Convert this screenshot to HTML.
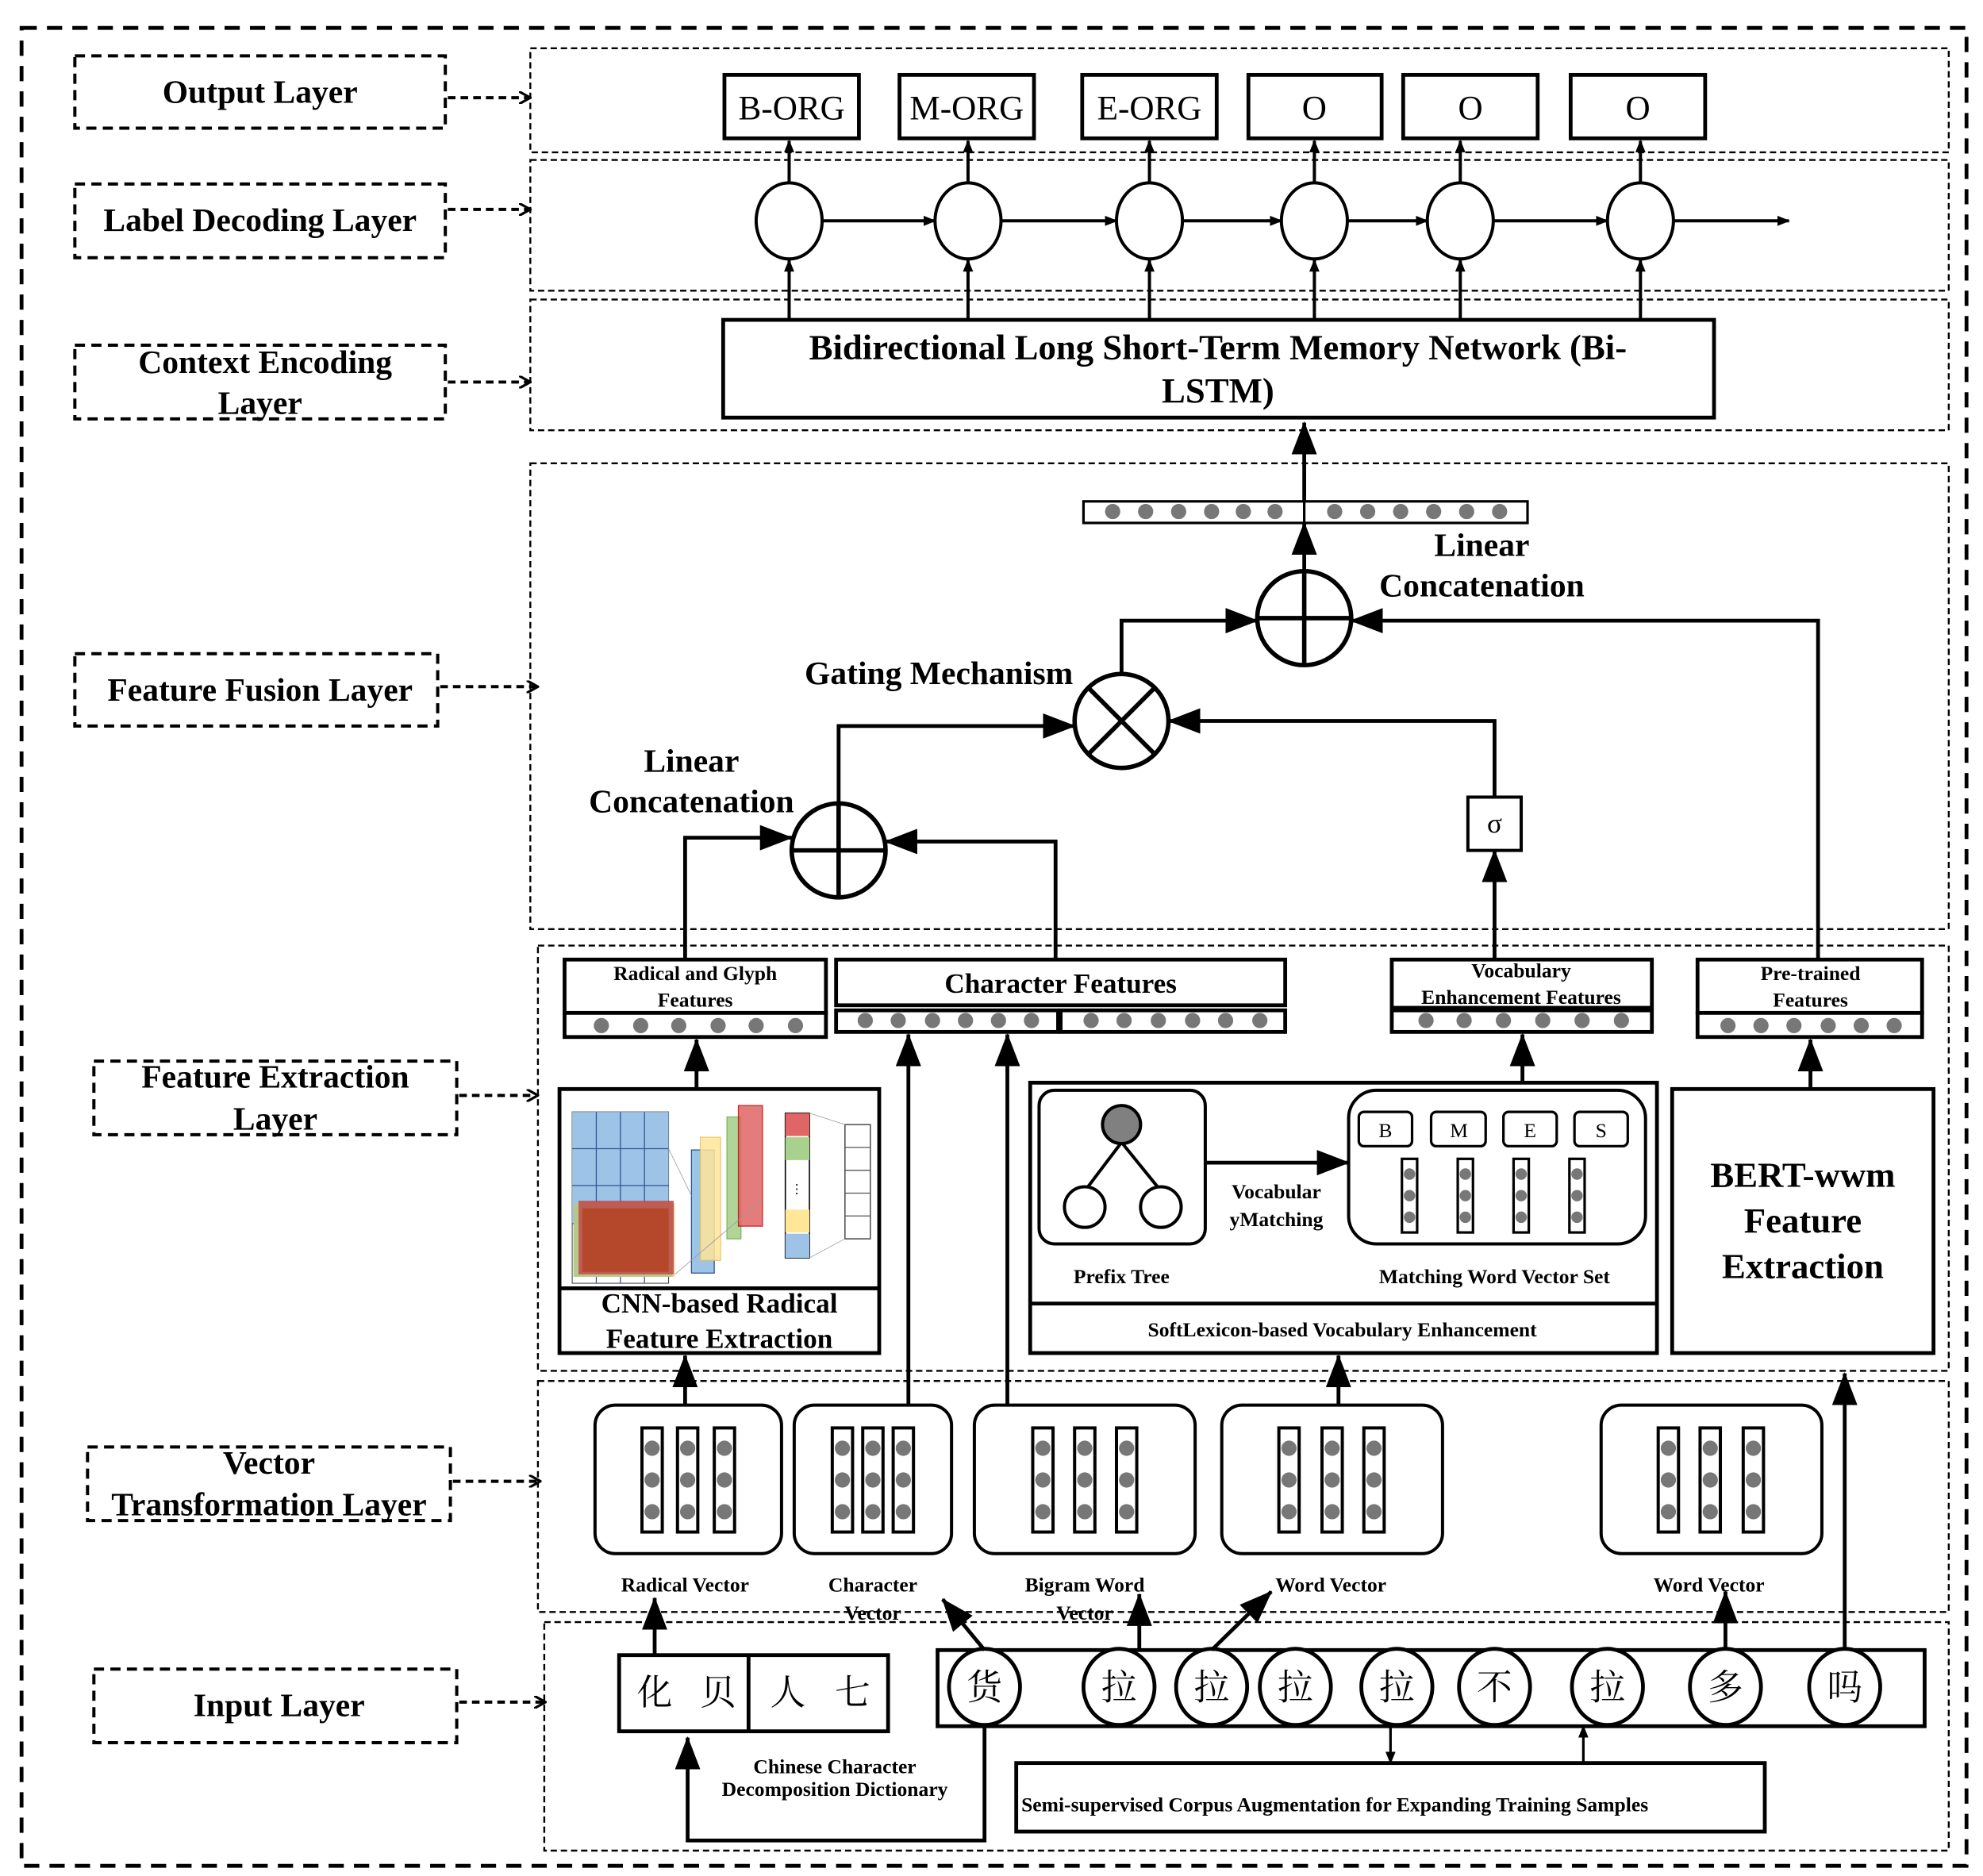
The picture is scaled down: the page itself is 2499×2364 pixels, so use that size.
<!DOCTYPE html>
<html><head><meta charset="utf-8">
<style>
html,body{margin:0;padding:0;background:#fff;}
svg{display:block;}
text{font-family:"Liberation Serif","Noto Serif CJK SC",serif;}
.b{font-weight:bold;}
.cjk{font-family:"Noto Serif CJK SC","Noto Sans CJK SC",serif;}
.mono{font-family:"Liberation Mono",monospace;}
</style></head>
<body>
<svg width="2499" height="2364" viewBox="0 0 1563 1478" preserveAspectRatio="none" xmlns="http://www.w3.org/2000/svg">
<defs>
<marker id="ah" markerWidth="10" markerHeight="8" refX="9" refY="4" orient="auto" markerUnits="userSpaceOnUse"><path d="M0,0 L10,4 L0,8 z" fill="#000"/></marker>
<marker id="AH" markerWidth="26" markerHeight="20" refX="25" refY="10" orient="auto" markerUnits="userSpaceOnUse"><path d="M0,0 L26,10 L0,20 z" fill="#000"/></marker>
<marker id="da" markerWidth="10" markerHeight="10" refX="9" refY="5" orient="auto" markerUnits="userSpaceOnUse"><path d="M0,0 L9,5 L0,10" fill="none" stroke="#000" stroke-width="2"/></marker>
<g id="dot"><circle r="6" fill="#777"/></g>
<g id="col"><rect x="-8" y="0" width="16" height="82" fill="#fff" stroke="#000" stroke-width="2.5"/><circle cy="16" r="6" fill="#777"/><circle cy="41" r="6" fill="#777"/><circle cy="66" r="6" fill="#777"/></g>
</defs>
<rect width="1563" height="1478" fill="#fff"/>
<!-- outer -->
<rect x="17" y="22" width="1533" height="1448" fill="none" stroke="#000" stroke-width="3" stroke-dasharray="12,8"/>

<!-- left labels -->
<g fill="none" stroke="#000" stroke-width="2.5" stroke-dasharray="8,5">
<rect x="59" y="44" width="292" height="57"/>
<rect x="59" y="145" width="292" height="58"/>
<rect x="59" y="272" width="292" height="58"/>
<rect x="59" y="515" width="286" height="57"/>
<rect x="74" y="836" width="286" height="58"/>
<rect x="69" y="1140" width="286" height="58"/>
<rect x="74" y="1315" width="286" height="58"/>
</g>
<g stroke="#000" stroke-width="2.5" stroke-dasharray="6,4" marker-end="url(#da)">
<line x1="353" y1="77" x2="418" y2="77"/>
<line x1="353" y1="165" x2="418" y2="165"/>
<line x1="353" y1="301" x2="418" y2="301"/>
<line x1="347" y1="541" x2="424" y2="541"/>
<line x1="362" y1="863" x2="424" y2="863"/>
<line x1="357" y1="1167" x2="426" y2="1167"/>
<line x1="362" y1="1341" x2="430" y2="1341"/>
</g>
<g class="b" font-size="26" text-anchor="middle">
<text x="205" y="81">Output Layer</text>
<text x="205" y="182">Label Decoding Layer</text>
<text x="209" y="294">Context Encoding</text><text x="205" y="326">Layer</text>
<text x="205" y="552">Feature Fusion Layer</text>
<text x="217" y="857">Feature Extraction</text><text x="217" y="890">Layer</text>
<text x="212" y="1161">Vector</text><text x="212" y="1194">Transformation Layer</text>
<text x="220" y="1352">Input Layer</text>
</g>

<!-- right regions -->
<g fill="none" stroke="#000" stroke-width="1.5" stroke-dasharray="5,3">
<rect x="418" y="38" width="1118" height="82"/>
<rect x="418" y="126" width="1118" height="103"/>
<rect x="418" y="236" width="1118" height="103"/>
<rect x="418" y="365" width="1118" height="367"/>
<rect x="424" y="745" width="1112" height="335"/>
<rect x="424" y="1088" width="1112" height="182"/>
<rect x="429" y="1278" width="1107" height="180"/>
</g>

<!-- output boxes -->
<g fill="#fff" stroke="#000" stroke-width="3">
<rect x="571" y="59" width="106" height="50"/>
<rect x="709" y="59" width="106" height="50"/>
<rect x="853" y="59" width="106" height="50"/>
<rect x="984" y="59" width="105" height="50"/>
<rect x="1106" y="59" width="106" height="50"/>
<rect x="1238" y="59" width="106" height="50"/>
</g>
<g class="mono" font-size="27" text-anchor="middle">
<text x="624" y="94">B-ORG</text><text x="762" y="94">M-ORG</text><text x="906" y="94">E-ORG</text>
<text x="1036" y="94">O</text><text x="1159" y="94">O</text><text x="1291" y="94">O</text>
</g>

<!-- decoding circles -->
<g stroke="#000" stroke-width="2.5">
<line x1="648" y1="174" x2="737" y2="174" marker-end="url(#ah)"/>
<line x1="789" y1="174" x2="880" y2="174" marker-end="url(#ah)"/>
<line x1="932" y1="174" x2="1010" y2="174" marker-end="url(#ah)"/>
<line x1="1062" y1="174" x2="1125" y2="174" marker-end="url(#ah)"/>
<line x1="1177" y1="174" x2="1267" y2="174" marker-end="url(#ah)"/>
<line x1="1319" y1="174" x2="1410" y2="174" marker-end="url(#ah)"/>
<line x1="622" y1="144" x2="622" y2="111" marker-end="url(#ah)"/>
<line x1="763" y1="144" x2="763" y2="111" marker-end="url(#ah)"/>
<line x1="906" y1="144" x2="906" y2="111" marker-end="url(#ah)"/>
<line x1="1036" y1="144" x2="1036" y2="111" marker-end="url(#ah)"/>
<line x1="1151" y1="144" x2="1151" y2="111" marker-end="url(#ah)"/>
<line x1="1293" y1="144" x2="1293" y2="111" marker-end="url(#ah)"/>
<line x1="622" y1="252" x2="622" y2="205" marker-end="url(#ah)"/>
<line x1="763" y1="252" x2="763" y2="205" marker-end="url(#ah)"/>
<line x1="906" y1="252" x2="906" y2="205" marker-end="url(#ah)"/>
<line x1="1036" y1="252" x2="1036" y2="205" marker-end="url(#ah)"/>
<line x1="1151" y1="252" x2="1151" y2="205" marker-end="url(#ah)"/>
<line x1="1293" y1="252" x2="1293" y2="205" marker-end="url(#ah)"/>
</g>
<g fill="#fff" stroke="#000" stroke-width="2.5">
<ellipse cx="622" cy="174" rx="26" ry="30"/><ellipse cx="763" cy="174" rx="26" ry="30"/>
<ellipse cx="906" cy="174" rx="26" ry="30"/><ellipse cx="1036" cy="174" rx="26" ry="30"/>
<ellipse cx="1151" cy="174" rx="26" ry="30"/><ellipse cx="1293" cy="174" rx="26" ry="30"/>
</g>

<!-- BiLSTM -->
<rect x="570" y="252" width="781" height="77" fill="#fff" stroke="#000" stroke-width="3"/>
<text class="b" x="960" y="283" font-size="28" text-anchor="middle">Bidirectional Long Short-Term Memory Network (Bi-</text>
<text class="b" x="960" y="317" font-size="28" text-anchor="middle">LSTM)</text>

<!-- fusion -->
<g stroke="#000" stroke-width="3" fill="none">
<line x1="1028" y1="395" x2="1028" y2="333" marker-end="url(#AH)"/>
<line x1="1028" y1="450" x2="1028" y2="412" marker-end="url(#AH)"/>
<polyline points="884,531 884,489 991,489" marker-end="url(#AH)"/>
<polyline points="1433,757 1433,489 1065,489" marker-end="url(#AH)"/>
<polyline points="1178,628 1178,568 921,568" marker-end="url(#AH)"/>
<line x1="1178" y1="757" x2="1178" y2="670" marker-end="url(#AH)"/>
<polyline points="661,633 661,572 847,572" marker-end="url(#AH)"/>
<polyline points="540,757 540,660 624,660" marker-end="url(#AH)"/>
<polyline points="832,757 832,663 698,663" marker-end="url(#AH)"/>
</g>
<rect x="854" y="395" width="350" height="17" fill="#fff" stroke="#000" stroke-width="2"/>
<line x1="1028" y1="395" x2="1028" y2="412" stroke="#000" stroke-width="2"/>
<g fill="#777">
<circle cx="877" cy="403" r="6"/><circle cx="903" cy="403" r="6"/><circle cx="929" cy="403" r="6"/><circle cx="955" cy="403" r="6"/><circle cx="980" cy="403" r="6"/><circle cx="1005" cy="403" r="6"/>
<circle cx="1052" cy="403" r="6"/><circle cx="1078" cy="403" r="6"/><circle cx="1104" cy="403" r="6"/><circle cx="1130" cy="403" r="6"/><circle cx="1156" cy="403" r="6"/><circle cx="1182" cy="403" r="6"/>
</g>
<g stroke="#000" stroke-width="3.5" fill="#fff">
<circle cx="1028" cy="487" r="37"/>
<circle cx="884" cy="568" r="37"/>
<circle cx="661" cy="670" r="37"/>
</g>
<g stroke="#000" stroke-width="3.5">
<line x1="991" y1="487" x2="1065" y2="487"/><line x1="1028" y1="450" x2="1028" y2="524"/>
<line x1="858" y1="542" x2="910" y2="594"/><line x1="910" y1="542" x2="858" y2="594"/>
<line x1="624" y1="670" x2="698" y2="670"/><line x1="661" y1="633" x2="661" y2="707"/>
</g>
<rect x="1157" y="628" width="42" height="42" fill="#fff" stroke="#000" stroke-width="2.5"/>
<text x="1178" y="656" font-size="22" text-anchor="middle">σ</text>
<g class="b" font-size="26" text-anchor="middle">
<text x="1168" y="438">Linear</text><text x="1168" y="470">Concatenation</text>
<text x="740" y="539">Gating Mechanism</text>
<text x="545" y="608">Linear</text><text x="545" y="640">Concatenation</text>
</g>

<!-- extraction feature bars -->
<g fill="#fff" stroke="#000" stroke-width="3">
<rect x="445" y="756" width="206" height="42"/><rect x="445" y="798" width="206" height="19"/>
<rect x="659" y="756" width="354" height="36"/><rect x="659" y="796" width="175" height="17"/><rect x="836" y="796" width="177" height="17"/>
<rect x="1097" y="756" width="205" height="38"/><rect x="1097" y="796" width="205" height="17"/>
<rect x="1338" y="756" width="177" height="42"/><rect x="1338" y="798" width="177" height="19"/>
</g>
<g fill="#777">
<circle cx="474" cy="808" r="6"/><circle cx="505" cy="808" r="6"/><circle cx="535" cy="808" r="6"/><circle cx="566" cy="808" r="6"/><circle cx="596" cy="808" r="6"/><circle cx="627" cy="808" r="6"/>
<circle cx="682" cy="804" r="6"/><circle cx="708" cy="804" r="6"/><circle cx="735" cy="804" r="6"/><circle cx="761" cy="804" r="6"/><circle cx="787" cy="804" r="6"/><circle cx="813" cy="804" r="6"/>
<circle cx="860" cy="804" r="6"/><circle cx="886" cy="804" r="6"/><circle cx="913" cy="804" r="6"/><circle cx="940" cy="804" r="6"/><circle cx="966" cy="804" r="6"/><circle cx="993" cy="804" r="6"/>
<circle cx="1124" cy="804" r="6"/><circle cx="1154" cy="804" r="6"/><circle cx="1185" cy="804" r="6"/><circle cx="1216" cy="804" r="6"/><circle cx="1247" cy="804" r="6"/><circle cx="1278" cy="804" r="6"/>
<circle cx="1362" cy="808" r="6"/><circle cx="1388" cy="808" r="6"/><circle cx="1414" cy="808" r="6"/><circle cx="1441" cy="808" r="6"/><circle cx="1467" cy="808" r="6"/><circle cx="1493" cy="808" r="6"/>
</g>
<g class="b" text-anchor="middle">
<text x="548" y="772" font-size="16">Radical and Glyph</text><text x="548" y="793" font-size="16">Features</text>
<text x="836" y="782" font-size="22">Character Features</text>
<text x="1199" y="770" font-size="16">Vocabulary</text><text x="1199" y="791" font-size="16">Enhancement Features</text>
<text x="1427" y="772" font-size="16">Pre-trained</text><text x="1427" y="793" font-size="16">Features</text>
</g>

<!-- CNN box -->
<rect x="441" y="858" width="252" height="208" fill="#fff" stroke="#000" stroke-width="3"/>
<line x1="441" y1="1015" x2="693" y2="1015" stroke="#000" stroke-width="3"/>
<g>
<rect x="451" y="876" width="76" height="135" fill="#fff" stroke="#333" stroke-width="0.6"/>
<rect x="451" y="876" width="76" height="88" fill="#9dc3e6"/>
<g stroke="#2f5597" stroke-width="0.8">
<line x1="451" y1="905" x2="527" y2="905"/><line x1="451" y1="934" x2="527" y2="934"/><line x1="451" y1="964" x2="527" y2="964"/>
<line x1="470" y1="876" x2="470" y2="1011"/><line x1="489" y1="876" x2="489" y2="1011"/><line x1="508" y1="876" x2="508" y2="1011"/>
</g>
<rect x="451" y="1010" width="0" height="0"/>
<rect x="452" y="948" width="80" height="58" fill="#e8d48a" opacity="0.8"/>
<rect x="452" y="948" width="78" height="58" fill="#a9c686" opacity="0.8"/>
<rect x="456" y="946" width="75" height="58" fill="#c0504d" opacity="0.9"/>
<rect x="459" y="952" width="68" height="50" fill="#b5472a"/>
<rect x="545" y="906" width="18" height="97" fill="#9dc3e6" stroke="#2f5597" stroke-width="0.8"/>
<rect x="552" y="896" width="16" height="97" fill="#ffe699" opacity="0.85" stroke="#e6c15a" stroke-width="0.8"/>
<rect x="573" y="880" width="11" height="96" fill="#a9d18e" opacity="0.9" stroke="#70ad47" stroke-width="0.8"/>
<rect x="582" y="871" width="19" height="95" fill="#e06666" opacity="0.85" stroke="#c00000" stroke-width="0.8"/>
<rect x="619" y="877" width="19" height="114" fill="#fff" stroke="#000" stroke-width="1"/>
<rect x="619" y="877" width="19" height="18" fill="#e06666"/>
<rect x="619" y="896" width="19" height="18" fill="#a9d18e"/>
<rect x="619" y="953" width="19" height="18" fill="#ffe699"/>
<rect x="619" y="972" width="19" height="19" fill="#9dc3e6"/>
<text x="628" y="940" font-size="10" text-anchor="middle">⋮</text>
<rect x="666" y="886" width="20" height="90" fill="#fff" stroke="#555" stroke-width="1"/>
<g stroke="#555" stroke-width="0.8"><line x1="666" y1="904" x2="686" y2="904"/><line x1="666" y1="922" x2="686" y2="922"/><line x1="666" y1="940" x2="686" y2="940"/><line x1="666" y1="958" x2="686" y2="958"/></g>
<g stroke="#999" stroke-width="0.5"><line x1="638" y1="877" x2="666" y2="886"/><line x1="638" y1="991" x2="666" y2="976"/><line x1="527" y1="905" x2="545" y2="942"/><line x1="532" y1="1004" x2="600" y2="946"/></g>
</g>
<g class="b" font-size="22" text-anchor="middle">
<text x="567" y="1034">CNN-based Radical</text><text x="567" y="1062">Feature Extraction</text>
</g>

<!-- SoftLexicon -->
<rect x="812" y="853" width="494" height="213" fill="#fff" stroke="#000" stroke-width="3"/>
<line x1="812" y1="1027" x2="1306" y2="1027" stroke="#000" stroke-width="3"/>
<rect x="819" y="859" width="131" height="121" rx="12" fill="#fff" stroke="#000" stroke-width="2.5"/>
<line x1="884" y1="900" x2="856" y2="937" stroke="#000" stroke-width="2.5"/>
<line x1="884" y1="900" x2="914" y2="937" stroke="#000" stroke-width="2.5"/>
<ellipse cx="884" cy="886" rx="15" ry="15" fill="#808080" stroke="#000" stroke-width="2.5"/>
<ellipse cx="855" cy="951" rx="16" ry="16" fill="#fff" stroke="#000" stroke-width="2.5"/>
<ellipse cx="915" cy="951" rx="16" ry="16" fill="#fff" stroke="#000" stroke-width="2.5"/>
<line x1="950" y1="916" x2="1063" y2="916" stroke="#000" stroke-width="3" marker-end="url(#AH)"/>
<rect x="1063" y="859" width="234" height="121" rx="22" fill="#fff" stroke="#000" stroke-width="2.5"/>
<g fill="#fff" stroke="#000" stroke-width="2">
<rect x="1071" y="876" width="42" height="27" rx="4"/><rect x="1128" y="876" width="43" height="27" rx="4"/>
<rect x="1185" y="876" width="42" height="27" rx="4"/><rect x="1241" y="876" width="42" height="27" rx="4"/>
</g>
<g font-size="16" text-anchor="middle"><text x="1092" y="896">B</text><text x="1150" y="896">M</text><text x="1206" y="896">E</text><text x="1262" y="896">S</text></g>
<g stroke="#000" stroke-width="2" fill="#fff">
<rect x="1105" y="913" width="12" height="58"/><rect x="1149" y="913" width="12" height="58"/><rect x="1193" y="913" width="12" height="58"/><rect x="1237" y="913" width="12" height="58"/>
</g>
<g fill="#777">
<circle cx="1111" cy="925" r="4.5"/><circle cx="1111" cy="942" r="4.5"/><circle cx="1111" cy="959" r="4.5"/>
<circle cx="1155" cy="925" r="4.5"/><circle cx="1155" cy="942" r="4.5"/><circle cx="1155" cy="959" r="4.5"/>
<circle cx="1199" cy="925" r="4.5"/><circle cx="1199" cy="942" r="4.5"/><circle cx="1199" cy="959" r="4.5"/>
<circle cx="1243" cy="925" r="4.5"/><circle cx="1243" cy="942" r="4.5"/><circle cx="1243" cy="959" r="4.5"/>
</g>
<g class="b" font-size="16" text-anchor="middle">
<text x="1006" y="944">Vocabular</text><text x="1006" y="966">yMatching</text>
<text x="884" y="1011">Prefix Tree</text>
<text x="1178" y="1011">Matching Word Vector Set</text>
<text x="1058" y="1053">SoftLexicon-based Vocabulary Enhancement</text>
</g>

<!-- BERT -->
<rect x="1318" y="858" width="206" height="208" fill="#fff" stroke="#000" stroke-width="3"/>
<g class="b" font-size="28" text-anchor="middle">
<text x="1421" y="935">BERT-wwm</text><text x="1421" y="971">Feature</text><text x="1421" y="1007">Extraction</text>
</g>

<!-- extraction arrows -->
<g stroke="#000" stroke-width="3" fill="none">
<line x1="549" y1="858" x2="549" y2="819" marker-end="url(#AH)"/>
<line x1="716" y1="1107" x2="716" y2="815" marker-end="url(#AH)"/>
<line x1="794" y1="1107" x2="794" y2="815" marker-end="url(#AH)"/>
<line x1="1200" y1="853" x2="1200" y2="815" marker-end="url(#AH)"/>
<line x1="1427" y1="858" x2="1427" y2="819" marker-end="url(#AH)"/>
<line x1="1055" y1="1107" x2="1055" y2="1068" marker-end="url(#AH)"/>
<line x1="540" y1="1107" x2="540" y2="1068" marker-end="url(#AH)"/>
<line x1="1454" y1="1300" x2="1454" y2="1082" marker-end="url(#AH)"/>
</g>

<!-- vector boxes -->
<g fill="#fff" stroke="#000" stroke-width="2.5">
<rect x="469" y="1107" width="147" height="117" rx="16"/>
<rect x="626" y="1107" width="124" height="117" rx="16"/>
<rect x="768" y="1107" width="174" height="117" rx="16"/>
<rect x="963" y="1107" width="174" height="117" rx="16"/>
<rect x="1262" y="1107" width="174" height="117" rx="16"/>
</g>
<use href="#col" x="514" y="1125"/><use href="#col" x="542" y="1125"/><use href="#col" x="571" y="1125"/>
<use href="#col" x="664" y="1125"/><use href="#col" x="688" y="1125"/><use href="#col" x="712" y="1125"/>
<use href="#col" x="822" y="1125"/><use href="#col" x="855" y="1125"/><use href="#col" x="888" y="1125"/>
<use href="#col" x="1016" y="1125"/><use href="#col" x="1050" y="1125"/><use href="#col" x="1083" y="1125"/>
<use href="#col" x="1315" y="1125"/><use href="#col" x="1348" y="1125"/><use href="#col" x="1382" y="1125"/>
<g class="b" font-size="16" text-anchor="middle">
<text x="540" y="1254">Radical Vector</text>
<text x="688" y="1254">Character</text><text x="688" y="1276">Vector</text>
<text x="855" y="1254">Bigram Word</text><text x="855" y="1276">Vector</text>
<text x="1049" y="1254">Word Vector</text>
<text x="1347" y="1254">Word Vector</text>
</g>

<!-- input -->
<rect x="488" y="1304" width="212" height="60" fill="#fff" stroke="#000" stroke-width="3"/>
<line x1="590" y1="1304" x2="590" y2="1364" stroke="#000" stroke-width="3"/>
<g class="cjk" font-size="28" text-anchor="middle"><text x="516" y="1343">化</text><text x="566" y="1343">贝</text><text x="621" y="1343">人</text><text x="672" y="1343">七</text></g>
<rect x="739" y="1300" width="778" height="60" fill="#fff" stroke="#000" stroke-width="3"/>
<g fill="#fff" stroke="#000" stroke-width="3">
<ellipse cx="776" cy="1329" rx="28" ry="30"/><ellipse cx="882" cy="1329" rx="28" ry="30"/><ellipse cx="955" cy="1329" rx="28" ry="30"/>
<ellipse cx="1021" cy="1329" rx="28" ry="30"/><ellipse cx="1101" cy="1329" rx="28" ry="30"/><ellipse cx="1178" cy="1329" rx="28" ry="30"/>
<ellipse cx="1267" cy="1329" rx="28" ry="30"/><ellipse cx="1360" cy="1329" rx="28" ry="30"/><ellipse cx="1454" cy="1329" rx="28" ry="30"/>
</g>
<g class="cjk" font-size="28" text-anchor="middle">
<text x="776" y="1339">货</text><text x="882" y="1339">拉</text><text x="955" y="1339">拉</text><text x="1021" y="1339">拉</text><text x="1101" y="1339">拉</text><text x="1178" y="1339">不</text><text x="1267" y="1339">拉</text><text x="1360" y="1339">多</text><text x="1454" y="1339">吗</text>
</g>
<g stroke="#000" stroke-width="3" fill="none">
<line x1="516" y1="1304" x2="516" y2="1259" marker-end="url(#AH)"/>
<line x1="776" y1="1300" x2="743" y2="1260" marker-end="url(#AH)"/>
<line x1="898" y1="1300" x2="898" y2="1256" marker-end="url(#AH)"/>
<line x1="955" y1="1300" x2="1002" y2="1254" marker-end="url(#AH)"/>
<line x1="1360" y1="1300" x2="1360" y2="1254" marker-end="url(#AH)"/>
<polyline points="776,1360 776,1450 542,1450 542,1369" marker-end="url(#AH)"/>
</g>
<g stroke="#000" stroke-width="2" fill="none">
<line x1="1096" y1="1360" x2="1096" y2="1389" marker-end="url(#ah)"/>
<line x1="1248" y1="1389" x2="1248" y2="1360" marker-end="url(#ah)"/>
</g>
<g class="b" font-size="16" text-anchor="middle">
<text x="658" y="1397">Chinese Character</text><text x="658" y="1415">Decomposition Dictionary</text>
</g>
<rect x="801" y="1389" width="590" height="54" fill="#fff" stroke="#000" stroke-width="3"/>
<text class="b" x="805" y="1427" font-size="16">Semi-supervised Corpus Augmentation for Expanding Training Samples</text>
</svg>
</body></html>
